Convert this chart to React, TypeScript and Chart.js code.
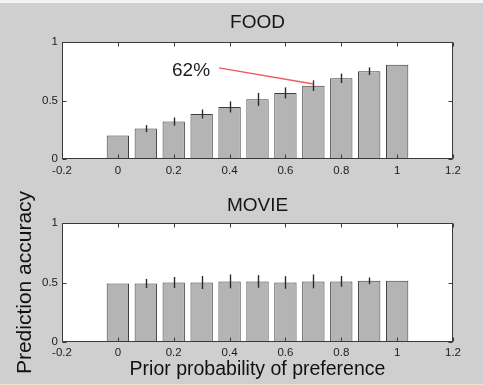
import React, { useEffect, useRef } from 'react';
import { Chart, registerables } from 'chart.js';

Chart.register(...registerables);

// ---------- data ----------
const categories = [0, 0.1, 0.2, 0.3, 0.4, 0.5, 0.6, 0.7, 0.8, 0.9, 1.0];
const foodAccuracy = [0.2, 0.26, 0.32, 0.385, 0.445, 0.51, 0.565, 0.627, 0.69, 0.75, 0.805];
const foodError = [0, 0.03, 0.035, 0.038, 0.047, 0.055, 0.047, 0.045, 0.04, 0.033, 0];
const movieAccuracy = [0.492, 0.492, 0.5, 0.5, 0.509, 0.509, 0.5, 0.509, 0.509, 0.514, 0.514];
const movieError = [0, 0.038, 0.046, 0.055, 0.058, 0.053, 0.053, 0.058, 0.045, 0.028, 0];
const xTickValues = [-0.2, 0, 0.2, 0.4, 0.6, 0.8, 1.0, 1.2];
const yTickValues = [0, 0.5, 1];
const panelTitles = ['FOOD', 'MOVIE'];
const xAxisLabel = 'Prior probability of preference';
const yAxisLabel = 'Prediction accuracy';
const noteText = '62%';
const noteTextAt = { x: 0.33, y: 0.752 };
const noteLineFrom = { x: 0.362, y: 0.778 };
const noteLineTo = { x: 0.7, y: 0.641 };

const FAMILY = '"Liberation Sans", Arial, Helvetica, sans-serif';

const matlabPlugin = {
  id: 'matlab',
  beforeDatasetsDraw(chart: any) {
    const { ctx, chartArea: a } = chart;
    ctx.save();
    ctx.fillStyle = '#ffffff';
    ctx.fillRect(a.left, a.top, a.right - a.left, a.bottom - a.top);
    ctx.restore();
  },
  afterDatasetsDraw(chart: any, _args: any, opts: any) {
    const { ctx, chartArea: a } = chart;
    const xs = chart.scales.x;
    const ys = chart.scales.y;
    ctx.save();
    // error bars
    chart.data.datasets.forEach((ds: any, di: number) => {
      const meta = chart.getDatasetMeta(di);
      const errs: number[] = ds.errors || [];
      meta.data.forEach((el: any, i: number) => {
        const e = errs[i];
        if (!e) return;
        const v = ds.data[i].y;
        const px = Math.round(el.x) + 0.5;
        ctx.beginPath();
        ctx.strokeStyle = '#2a2a2a';
        ctx.lineWidth = 1.4;
        ctx.moveTo(px, ys.getPixelForValue(v - e));
        ctx.lineTo(px, ys.getPixelForValue(v + e));
        ctx.stroke();
      });
    });
    // axes box
    ctx.strokeStyle = '#3a3a3a';
    ctx.lineWidth = 1;
    const l = Math.round(a.left) + 0.5;
    const r = Math.round(a.right) - 0.5;
    const t = Math.round(a.top) + 0.5;
    const b = Math.round(a.bottom) - 0.5;
    ctx.strokeRect(l, t, r - l, b - t);
    // inner ticks
    ctx.beginPath();
    xs.ticks.forEach((tk: any) => {
      const px = Math.round(xs.getPixelForValue(tk.value)) + 0.5;
      ctx.moveTo(px, b);
      ctx.lineTo(px, b - 4);
      ctx.moveTo(px, t);
      ctx.lineTo(px, t + 4);
    });
    ys.ticks.forEach((tk: any) => {
      const py = Math.round(ys.getPixelForValue(tk.value)) + 0.5;
      ctx.moveTo(l, py);
      ctx.lineTo(l + 4, py);
      ctx.moveTo(r, py);
      ctx.lineTo(r - 4, py);
    });
    ctx.stroke();
    // annotation
    const note = opts && opts.note;
    if (note) {
      ctx.beginPath();
      ctx.strokeStyle = '#f25a5a';
      ctx.lineWidth = 1.3;
      ctx.moveTo(xs.getPixelForValue(note.from.x), ys.getPixelForValue(note.from.y));
      ctx.lineTo(xs.getPixelForValue(note.to.x), ys.getPixelForValue(note.to.y));
      ctx.stroke();
      ctx.fillStyle = '#1e1e1e';
      ctx.font = `19px ${FAMILY}`;
      ctx.textAlign = 'right';
      ctx.textBaseline = 'middle';
      ctx.fillText(note.text, xs.getPixelForValue(note.at.x), ys.getPixelForValue(note.at.y));
    }
    ctx.restore();
  },
};

function buildConfig(title: string, values: number[], errors: number[], isBottom: boolean, note: any) {
  const tickFont = { family: FAMILY, size: 11.5 };
  return {
    type: 'bar',
    data: {
      datasets: [
        {
          data: categories.map((c, i) => ({ x: c, y: values[i] })),
          errors,
          backgroundColor: '#b4b4b4',
          borderColor: '#3c3c3c',
          borderWidth: 1,
          borderSkipped: false,
          categoryPercentage: 1,
          barPercentage: 0.8,
        },
      ],
    },
    options: {
      animation: false,
      responsive: true,
      maintainAspectRatio: false,
      layout: { padding: { left: 0, right: 30, top: 0, bottom: 0 } },
      plugins: {
        legend: { display: false },
        tooltip: { enabled: false },
        title: {
          display: true,
          fullSize: false,
          text: title,
          color: '#151515',
          font: { family: FAMILY, size: 19, weight: 'normal' },
          padding: isBottom ? { top: 9.6, bottom: 5.6 } : { top: 11.6, bottom: 7.6 },
        },
        matlab: { note },
      },
      scales: {
        x: {
          type: 'linear',
          min: -0.2,
          max: 1.2,
          offset: false,
          grid: { display: false, drawTicks: false, tickLength: 0 },
          border: { display: false },
          afterBuildTicks: (s: any) => {
            s.ticks = xTickValues.map((v) => ({ value: v }));
          },
          afterFit: (s: any) => {
            s.height = isBottom ? 43 : 26;
          },
          ticks: {
            callback: (v: any) => String(v),
            color: '#1c1c1c',
            font: tickFont,
            padding: isBottom ? 4 : 5,
            maxRotation: 0,
            autoSkip: false,
          },
          title: isBottom
            ? {
                display: true,
                text: xAxisLabel,
                color: '#111',
                font: { family: FAMILY, size: 19.5 },
                padding: { top: 0, bottom: 4 },
              }
            : { display: false },
        },
        y: {
          type: 'linear',
          min: 0,
          max: 1,
          grid: { display: false, drawTicks: false, tickLength: 0 },
          border: { display: false },
          afterBuildTicks: (s: any) => {
            s.ticks = yTickValues.map((v) => ({ value: v }));
          },
          afterFit: (s: any) => {
            s.width = 62;
          },
          ticks: {
            callback: (v: any) => String(v),
            color: '#1c1c1c',
            font: tickFont,
            padding: 4,
          },
          title: isBottom
            ? {
                display: true,
                text: yAxisLabel,
                color: '#111',
                font: { family: FAMILY, size: 21 },
                padding: { top: 12.4, bottom: 0 },
              }
            : { display: false },
        },
      },
    },
    plugins: [matlabPlugin],
  };
}

function Panel({ config, top, height }: { config: any; top: number; height: number }) {
  const ref = useRef<HTMLCanvasElement | null>(null);
  useEffect(() => {
    if (!ref.current) return;
    const chart = new Chart(ref.current, config);
    return () => chart.destroy();
  }, []);
  return (
    <div style={{ position: 'absolute', left: 0, top, width: 483, height }}>
      <canvas ref={ref} />
    </div>
  );
}

export default function App() {
  const foodCfg = buildConfig(panelTitles[0], foodAccuracy, foodError, false, {
    text: noteText,
    at: noteTextAt,
    from: noteLineFrom,
    to: noteLineTo,
  });
  const movieCfg = buildConfig(panelTitles[1], movieAccuracy, movieError, true, null);
  return (
    <div
      style={{
        position: 'absolute',
        left: 0,
        top: 0,
        width: 483,
        height: 385,
        background: '#cfcfcf',
        overflow: 'hidden',
      }}
    >
      <div style={{ position: 'absolute', left: 0, top: 0, width: 483, height: 3, background: '#f3f3f3' }} />
      <Panel config={foodCfg} top={0} height={185} />
      <Panel config={movieCfg} top={185} height={200} />
      <div style={{ position: 'absolute', left: 0, top: 384, width: 483, height: 1, background: '#efe3c2' }} />
    </div>
  );
}
